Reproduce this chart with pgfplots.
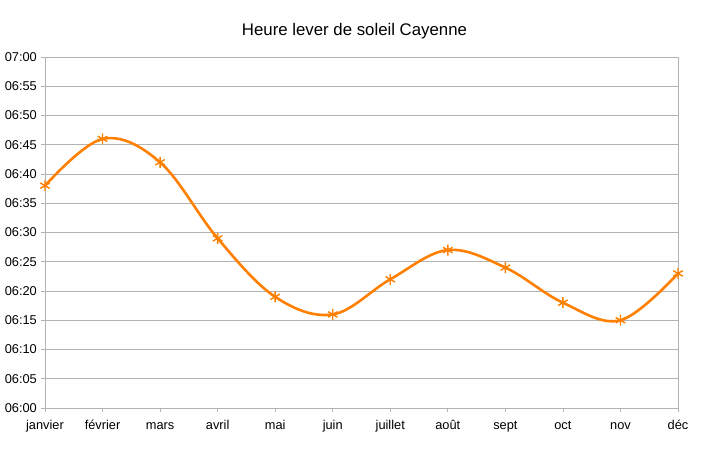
\documentclass[border=0pt]{standalone}
\usepackage{fontspec}
\setmainfont{Liberation Sans}
\usepackage{pgfplots}
\pgfplotsset{compat=1.18}
\definecolor{serie}{HTML}{FF8000}
\definecolor{grille}{HTML}{B3B3B3}

% minutes après 06:00
\pgfplotstableread{
x min
0  38
1  46
2  42
3  29
4  19
5  16
6  22
7  27
8  24
9  18
10 15
11 23
}\lever

\begin{document}
\begin{tikzpicture}
\begin{axis}[
    scale only axis,
    width=633bp, height=351bp,
    xmin=0, xmax=11, ymin=0, ymax=60,
    xtick=data,
    xticklabels={janvier,février,mars,avril,mai,juin,juillet,août,sept,oct,nov,déc},
    ytick={0,5,...,60},
    yticklabels={06:00,06:05,06:10,06:15,06:20,06:25,06:30,06:35,06:40,06:45,06:50,06:55,07:00},
    xtick pos=left, ytick pos=left,
    tick align=outside,
    major tick length=4bp,
    ymajorgrids,
    grid style={grille, line width=0.8bp},
    axis line style={grille, line width=0.8bp},
    every tick/.style={grille, line width=0.8bp},
    tick label style={font=\fontsize{12.8bp}{14bp}\selectfont, text=black},
    yticklabel style={inner sep=0pt, xshift=-4bp},
    xticklabel style={inner sep=0pt, text height=9.5bp, text depth=3bp, yshift=-8bp},
    title={Heure lever de soleil Cayenne},
    title style={font=\fontsize{16.8bp}{19bp}\selectfont, inner sep=0pt, yshift=12bp, xshift=-7bp},
]
\addplot[serie, line width=2.6bp, smooth, tension=0.6,
    mark=asterisk, mark size=5.5bp, mark options={line width=1.4bp}]
    table[x=x, y=min] {\lever};
\end{axis}
\path ([xshift=-45bp,yshift=-52bp]current axis.origin) rectangle ++(708bp,460bp);
\end{tikzpicture}
\end{document}
